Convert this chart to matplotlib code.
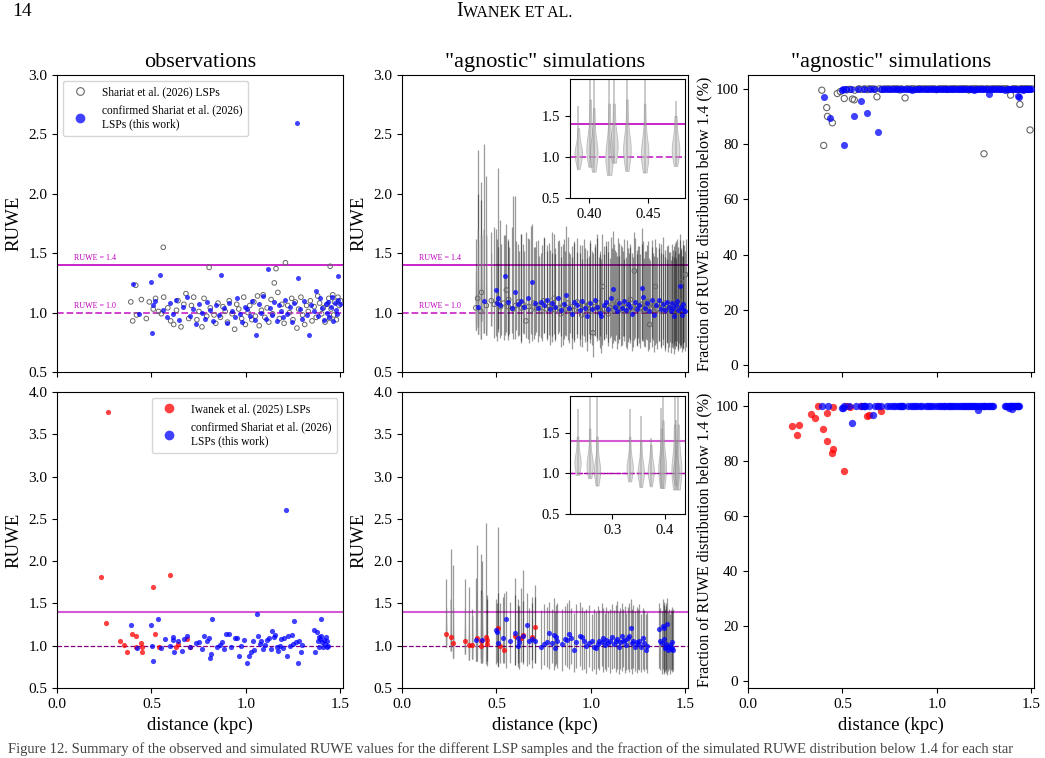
import matplotlib
matplotlib.use('Agg')
import matplotlib.pyplot as plt
from matplotlib.lines import Line2D

plt.rcParams['font.family'] = ['Liberation Serif', 'DejaVu Serif']

# ---------------- top row: Shariat et al. (2026) LSPs ----------------
# not confirmed (grey open circles)
gray_dist = [
    0.391, 0.401, 0.417, 0.421, 0.447, 0.473, 0.489, 0.510, 0.522, 0.538,
    0.553, 0.563, 0.565, 0.587, 0.602, 0.618, 0.633, 0.641, 0.657, 0.672,
    0.683, 0.698, 0.712, 0.724, 0.741, 0.752, 0.768, 0.779, 0.793, 0.806,
    0.812, 0.832, 0.841, 0.853, 0.866, 0.879, 0.891, 0.903, 0.912, 0.928,
    0.941, 0.952, 0.963, 0.978, 0.989, 0.998, 1.012, 1.021, 1.032, 1.043,
    1.051, 1.062, 1.071, 1.083, 1.092, 1.101, 1.113, 1.122, 1.134, 1.142,
    1.151, 1.160, 1.170, 1.178, 1.191, 1.203, 1.210, 1.222, 1.231, 1.243,
    1.250, 1.262, 1.271, 1.280, 1.292, 1.301, 1.312, 1.322, 1.331, 1.342,
    1.351, 1.362, 1.373, 1.381, 1.391, 1.402, 1.411, 1.420, 1.431, 1.440,
    1.444, 1.447, 1.452, 1.461, 1.466, 1.470, 1.480, 1.488, 1.494, 1.502]
gray_obs = [
    1.09, 0.93, 1.23, 0.98, 1.11, 0.95, 1.09, 1.03, 1.12, 1.01,
    0.99, 1.55, 1.13, 1.04, 0.93, 0.90, 1.02, 1.10, 0.88, 1.07,
    1.16, 0.95, 1.06, 1.13, 0.94, 1.01, 0.88, 1.12, 0.97, 1.38,
    1.04, 0.98, 0.91, 1.08, 0.96, 1.05, 1.01, 0.92, 1.10, 0.99,
    0.86, 1.07, 1.03, 0.95, 1.13, 0.90, 1.00, 1.06, 0.94, 1.09,
    0.97, 1.14, 0.89, 1.02, 1.15, 0.96, 1.04, 0.92, 1.11, 0.99,
    1.25, 1.37, 1.17, 0.95, 1.07, 0.91, 1.42, 1.06, 1.00, 1.12,
    0.94, 1.09, 0.87, 1.03, 1.13, 0.98, 0.90, 1.06, 1.01, 1.10,
    0.93, 1.05, 0.96, 1.14, 1.08, 0.99, 1.04, 0.92, 1.07, 1.12,
    0.95, 1.39, 1.03, 1.15, 0.98, 1.09, 0.94, 1.13, 1.06, 1.10]
gray_sim = [
    1.04, 1.12, 1.01, 1.17, 1.06, 1.10, 1.07, 1.09, 1.05, 1.08,
    1.19, 1.05, 1.11, 1.03, 1.06, 1.09, 1.04, 1.07, 0.93, 1.05,
    1.02, 1.08, 1.04, 1.06, 1.01, 1.10, 1.03, 1.05, 1.07, 1.12,
    1.02, 1.04, 0.99, 1.06, 1.03, 1.08, 1.01, 1.05, 1.02, 1.09,
    1.04, 0.98, 1.06, 1.03, 1.07, 1.01, 0.83, 1.05, 1.04, 1.08,
    1.02, 1.22, 1.03, 1.06, 0.99, 1.04, 1.07, 1.02, 1.05, 1.09,
    1.03, 1.06, 1.01, 1.04, 1.08, 1.02, 1.11, 1.05, 1.35, 1.03,
    1.06, 1.04, 1.07, 1.02, 1.05, 1.09, 0.90, 1.04, 1.06, 1.22,
    1.03, 1.07, 1.01, 1.05, 1.08, 1.02, 1.04, 1.06, 1.03, 1.09,
    1.05, 1.02, 1.07, 1.04, 1.10, 1.06, 1.26, 1.03, 1.05, 1.32]
gray_lo = [
    0.85, 0.88, 0.78, 0.93, 0.81, 0.89, 0.79, 0.86, 0.81, 0.77,
    0.84, 0.80, 0.82, 0.78, 0.85, 0.81, 0.76, 0.83, 0.79, 0.74,
    0.82, 0.78, 0.84, 0.80, 0.76, 0.83, 0.79, 0.81, 0.75, 0.82,
    0.78, 0.84, 0.80, 0.73, 0.81, 0.77, 0.83, 0.79, 0.75, 0.82,
    0.78, 0.71, 0.80, 0.76, 0.82, 0.74, 0.63, 0.81, 0.79, 0.77,
    0.80, 0.73, 0.78, 0.82, 0.75, 0.79, 0.70, 0.77, 0.81, 0.74,
    0.78, 0.72, 0.80, 0.76, 0.69, 0.79, 0.74, 0.71, 0.77, 0.73,
    0.79, 0.70, 0.76, 0.72, 0.78, 0.68, 0.75, 0.71, 0.77, 0.73,
    0.69, 0.76, 0.72, 0.78, 0.70, 0.74, 0.67, 0.75, 0.71, 0.73,
    0.69, 0.76, 0.72, 0.68, 0.74, 0.70, 0.73, 0.69, 0.75, 0.71]
gray_hi = [
    1.62, 2.37, 2.10, 1.95, 2.15, 1.68, 1.72, 2.22, 1.58, 1.65,
    1.75, 1.62, 1.55, 1.98, 1.60, 1.52, 1.66, 1.58, 1.68, 1.62,
    1.73, 1.55, 1.60, 1.48, 1.57, 1.63, 1.52, 1.59, 1.50, 1.66,
    1.54, 1.61, 1.47, 1.58, 1.52, 1.64, 1.49, 1.56, 1.60, 1.51,
    1.57, 1.45, 1.62, 1.53, 1.48, 1.59, 1.50, 1.55, 1.63, 1.47,
    1.52, 1.66, 1.49, 1.56, 1.60, 1.46, 1.54, 1.58, 1.51, 1.63,
    1.48, 1.57, 1.52, 1.45, 1.61, 1.50, 1.55, 1.47, 1.68, 1.53,
    1.56, 1.49, 1.58, 1.46, 1.52, 1.60, 1.44, 1.55, 1.50, 1.62,
    1.47, 1.54, 1.58, 1.49, 1.53, 1.45, 1.57, 1.51, 1.48, 1.56,
    1.52, 1.59, 1.46, 1.55, 1.50, 1.61, 1.53, 1.48, 1.57, 1.62]
gray_frac = [
    99.5, 79.5, 93.2, 90.0, 87.7, 98.3, 99.0, 96.5, 99.6, 99.8,
    96.3, 96.0, 99.5, 100, 99.8, 100, 99.7, 100, 100, 99.9,
    97.1, 100, 99.8, 100, 100, 99.9, 100, 100, 100, 99.6,
    100, 96.7, 100, 99.9, 100, 100, 99.8, 100, 100, 100,
    100, 99.9, 100, 100, 100, 99.7, 100, 100, 100, 100,
    100, 99.8, 100, 100, 100, 100, 99.9, 100, 100, 100,
    100, 100, 99.6, 100, 100, 100, 100, 99.9, 100, 100,
    76.5, 100, 100, 99.8, 100, 100, 100, 100, 100, 99.9,
    100, 100, 100, 99.7, 97.7, 100, 100, 100, 99.8, 94.4,
    100, 99.9, 100, 100, 99.8, 100, 100, 100, 85.1, 100]

# confirmed (blue)
blue_dist = [
    0.404, 0.432, 0.497, 0.505, 0.508, 0.521, 0.544, 0.563, 0.581, 0.596,
    0.612, 0.630, 0.648, 0.666, 0.687, 0.703, 0.718, 0.736, 0.751, 0.767,
    0.784, 0.797, 0.812, 0.826, 0.843, 0.858, 0.869, 0.884, 0.898, 0.913,
    0.926, 0.941, 0.955, 0.968, 0.982, 0.996, 1.009, 1.022, 1.034, 1.047,
    1.056, 1.068, 1.080, 1.093, 1.105, 1.117, 1.128, 1.140, 1.152, 1.163,
    1.175, 1.186, 1.198, 1.209, 1.221, 1.232, 1.244, 1.255, 1.270, 1.277,
    1.288, 1.299, 1.311, 1.322, 1.337, 1.348, 1.359, 1.370, 1.381, 1.392,
    1.402, 1.413, 1.424, 1.430, 1.433, 1.441, 1.449, 1.457, 1.463, 1.470,
    1.476, 1.482, 1.487, 1.491, 1.498]
blue_obs = [
    1.24, 0.99, 1.26, 0.83, 1.06, 1.10, 1.32, 1.02, 0.96, 1.08,
    0.99, 1.11, 0.94, 1.05, 1.13, 0.97, 1.03, 0.90, 1.07, 1.00,
    0.95, 1.09, 1.02, 0.93, 1.06, 0.98, 1.32, 1.04, 0.91, 1.08,
    1.01, 0.96, 1.12, 0.99, 0.92, 1.05, 1.03, 0.97, 1.10, 0.94,
    0.81, 1.07, 1.00, 1.14, 0.95, 1.37, 1.04, 0.98, 1.09, 0.93,
    1.06, 1.01, 0.96, 1.11, 0.99, 1.05, 0.92, 1.08, 2.60, 1.29,
    1.03, 0.95, 1.10, 0.98, 0.81, 1.06, 1.01, 1.18, 0.97, 1.12,
    1.04, 0.94, 1.07, 1.00, 1.09, 0.96, 1.05, 1.13, 0.93, 1.08,
    1.02, 0.99, 1.11, 1.31, 1.07]
blue_sim = [
    1.05, 1.10, 1.19, 1.08, 1.12, 1.06, 1.31, 1.09, 1.04, 1.17,
    1.07, 1.10, 1.05, 1.12, 1.26, 1.08, 1.04, 1.09, 1.06, 1.11,
    1.03, 1.08, 1.05, 1.12, 1.02, 1.07, 1.15, 1.04, 0.99, 1.09,
    1.06, 1.02, 1.10, 1.04, 0.97, 1.08, 1.03, 1.11, 1.05, 1.00,
    0.97, 1.06, 1.09, 1.03, 1.12, 1.20, 1.05, 1.01, 1.08, 1.04,
    1.10, 1.02, 1.07, 1.05, 0.99, 1.09, 1.03, 1.06, 1.21, 1.13,
    1.04, 1.08, 1.01, 1.11, 0.98, 1.06, 1.11, 1.03, 1.07, 1.02,
    1.09, 1.05, 1.01, 1.08, 1.04, 0.97, 1.06, 1.10, 1.02, 1.22,
    1.05, 0.98, 1.03, 1.07, 1.01]
blue_lo = [
    0.82, 0.83, 0.80, 0.76, 0.84, 0.79, 0.81, 0.77, 0.83, 0.78,
    0.80, 0.74, 0.82, 0.78, 0.76, 0.81, 0.75, 0.79, 0.83, 0.77,
    0.73, 0.80, 0.76, 0.82, 0.71, 0.78, 0.80, 0.74, 0.69, 0.77,
    0.79, 0.72, 0.81, 0.75, 0.68, 0.78, 0.73, 0.80, 0.76, 0.70,
    0.66, 0.77, 0.79, 0.72, 0.80, 0.74, 0.76, 0.69, 0.78, 0.73,
    0.80, 0.71, 0.75, 0.77, 0.68, 0.79, 0.72, 0.74, 0.78, 0.76,
    0.71, 0.77, 0.69, 0.79, 0.67, 0.74, 0.76, 0.70, 0.73, 0.68,
    0.75, 0.71, 0.66, 0.74, 0.70, 0.65, 0.72, 0.76, 0.69, 0.73,
    0.71, 0.67, 0.70, 0.74, 0.68]
blue_hi = [
    2.00, 2.42, 1.70, 1.62, 1.55, 1.78, 1.65, 1.60, 1.72, 1.98,
    1.58, 1.66, 1.52, 1.63, 1.75, 1.55, 1.61, 1.50, 1.64, 1.57,
    1.53, 1.68, 1.49, 1.60, 1.56, 1.62, 1.73, 1.51, 1.47, 1.59,
    1.63, 1.50, 1.57, 1.54, 1.46, 1.61, 1.52, 1.58, 1.66, 1.49,
    1.45, 1.56, 1.60, 1.51, 1.64, 1.69, 1.53, 1.48, 1.59, 1.55,
    1.62, 1.47, 1.54, 1.58, 1.50, 1.63, 1.49, 1.56, 1.71, 1.60,
    1.52, 1.57, 1.46, 1.61, 1.48, 1.55, 1.59, 1.50, 1.64, 1.47,
    1.56, 1.51, 1.44, 1.58, 1.53, 1.47, 1.60, 1.62, 1.49, 1.66,
    1.54, 1.48, 1.57, 1.61, 1.52]
blue_frac = [
    97.1, 89.3, 99.5, 100, 79.6, 100, 99.8, 90.1, 100, 95.5,
    100, 91.4, 99.9, 100, 84.4, 100, 100, 99.8, 100, 100,
    100, 100, 99.9, 100, 100, 100, 99.7, 100, 100, 100,
    100, 99.8, 100, 100, 100, 100, 100, 99.9, 100, 100,
    100, 100, 100, 99.8, 100, 100, 100, 100, 100, 99.9,
    100, 100, 99.4, 100, 100, 100, 100, 99.8, 100, 98.3,
    100, 100, 99.9, 100, 100, 100, 99.7, 100, 100, 100,
    100, 100, 99.8, 97.3, 97.0, 100, 100, 99.6, 100, 100,
    100, 99.9, 100, 100, 100]

# core of the simulated RUWE samples of the nearest stars (top inset)
top_violin_pos = [0.391, 0.401, 0.404, 0.417, 0.421, 0.432, 0.447, 0.473]
top_violin_vals = [
    [0.85, 0.95, 0.99, 1.02, 1.04, 1.06, 1.09, 1.13, 1.22, 1.35],
    [0.88, 1.00, 1.05, 1.08, 1.10, 1.13, 1.17, 1.25, 1.45, 1.70],
    [0.82, 0.94, 1.00, 1.03, 1.05, 1.08, 1.12, 1.20, 1.40, 1.60],
    [0.78, 0.88, 0.95, 0.99, 1.02, 1.05, 1.10, 1.18, 1.40, 1.65],
    [0.93, 1.02, 1.08, 1.12, 1.15, 1.18, 1.22, 1.30, 1.50, 1.65],
    [0.83, 0.97, 1.03, 1.07, 1.10, 1.13, 1.17, 1.25, 1.45, 1.70],
    [0.81, 0.93, 0.99, 1.02, 1.05, 1.08, 1.12, 1.20, 1.40, 1.65],
    [0.89, 0.99, 1.04, 1.07, 1.10, 1.13, 1.17, 1.24, 1.38, 1.50]]

# ---------------- bottom row ----------------
# Iwanek et al. (2025) LSPs (red)
red_dist = [0.234, 0.257, 0.271, 0.333, 0.354, 0.373, 0.396, 0.418, 0.421, 0.444,
            0.449, 0.452, 0.509, 0.518, 0.540, 0.601, 0.630, 0.643, 0.690, 0.703]
red_obs = [1.815, 1.27, 3.76, 1.06, 1.01, 0.93, 1.14, 1.118, 0.98, 1.03,
           0.99, 0.93, 1.70, 1.134, 0.99, 1.84, 0.99, 1.02, 1.075, 0.99]
red_sim = [1.14, 1.106, 1.03, 1.06, 1.01, 1.01, 1.09, 1.05, 1.00, 1.10,
           1.07, 1.02, 1.21, 1.00, 0.95, 1.11, 1.09, 1.13, 1.10, 1.22]
red_lo = [0.98, 0.94, 0.85, 0.90, 0.83, 0.84, 0.82, 0.80, 0.86, 0.78,
          0.76, 0.82, 0.75, 0.80, 0.79, 0.77, 0.81, 0.78, 0.83, 0.80]
red_hi = [1.79, 2.14, 1.96, 1.79, 1.70, 1.43, 2.19, 2.08, 1.66, 2.45,
          1.60, 1.55, 2.40, 1.50, 1.62, 1.80, 1.68, 1.90, 1.58, 1.72]
red_frac = [92.6, 89.3, 92.9, 97.1, 95.7, 99.8, 91.6, 87.2, 97.4, 82.8,
            84.3, 99.6, 76.4, 99.9, 99.5, 99.8, 96.3, 96.8, 99.9, 98.2]

# confirmed Shariat et al. (2026) LSPs (blue)
blue2_dist = [
    0.393, 0.425, 0.497, 0.503, 0.506, 0.536, 0.552, 0.571, 0.596, 0.612,
    0.617, 0.622, 0.641, 0.664, 0.672, 0.689, 0.702, 0.738, 0.751, 0.766,
    0.779, 0.792, 0.805, 0.812, 0.818, 0.823, 0.846, 0.861, 0.874, 0.884,
    0.893, 0.912, 0.924, 0.941, 0.952, 0.963, 0.975, 0.988, 1.005, 1.016,
    1.027, 1.036, 1.044, 1.058, 1.066, 1.075, 1.083, 1.092, 1.104, 1.113,
    1.121, 1.132, 1.139, 1.147, 1.156, 1.164, 1.172, 1.181, 1.189, 1.196,
    1.204, 1.212, 1.218, 1.226, 1.234, 1.243, 1.251, 1.257, 1.266, 1.277,
    1.284, 1.292, 1.298, 1.362, 1.368, 1.375, 1.381, 1.386, 1.389, 1.393,
    1.397, 1.401, 1.405, 1.409, 1.414, 1.419, 1.424, 1.428, 1.431, 1.434]
blue2_obs = [
    1.24, 0.97, 1.25, 1.00, 0.825, 1.32, 0.97, 1.08, 1.00, 1.10,
    1.07, 0.93, 1.05, 0.94, 1.08, 1.11, 0.99, 1.03, 1.04, 0.96,
    1.11, 1.06, 1.09, 0.86, 0.90, 1.31, 0.98, 1.01, 1.04, 0.96,
    1.14, 1.14, 0.99, 1.09, 1.09, 0.88, 1.00, 1.07, 0.79, 0.88,
    0.92, 1.06, 0.95, 1.37, 1.12, 1.02, 1.05, 0.96, 1.01, 1.07,
    1.09, 0.96, 1.17, 1.10, 1.13, 0.98, 0.94, 1.00, 1.08, 0.97,
    1.09, 2.60, 0.88, 1.11, 1.00, 1.13, 1.02, 1.29, 1.04, 0.80,
    1.06, 0.92, 1.01, 1.18, 0.93, 1.16, 1.05, 0.99, 1.10, 1.08,
    1.31, 1.12, 1.04, 0.99, 1.07, 1.02, 1.10, 0.98, 1.06, 1.00]
blue2_sim = [
    1.07, 1.07, 1.18, 1.16, 1.03, 1.09, 1.31, 1.05, 1.15, 1.09,
    1.00, 1.04, 1.12, 1.25, 1.05, 1.08, 1.06, 0.99, 1.02, 1.04,
    1.15, 1.03, 1.13, 0.97, 1.10, 1.06, 1.02, 1.08, 1.07, 1.14,
    1.09, 0.95, 1.04, 1.12, 1.10, 1.06, 1.00, 1.03, 1.05, 0.99,
    0.97, 1.02, 1.06, 1.04, 1.09, 1.01, 1.07, 1.03, 1.05, 1.10,
    1.02, 1.06, 1.08, 0.98, 1.04, 1.11, 1.05, 1.07, 1.01, 1.09,
    1.12, 1.21, 1.03, 1.06, 0.99, 1.04, 1.02, 1.05, 0.98, 1.09,
    1.03, 0.95, 1.00, 1.20, 1.06, 1.03, 1.23, 1.08, 1.21, 0.97,
    1.02, 0.99, 1.26, 0.95, 0.98, 1.01, 0.96, 1.04, 0.97, 0.95]
blue2_lo = [
    0.82, 0.80, 0.78, 0.81, 0.76, 0.79, 0.74, 0.80, 0.77, 0.75,
    0.79, 0.73, 0.81, 0.76, 0.78, 0.74, 0.80, 0.72, 0.77, 0.75,
    0.73, 0.79, 0.71, 0.76, 0.78, 0.74, 0.70, 0.77, 0.75, 0.72,
    0.78, 0.69, 0.74, 0.76, 0.71, 0.73, 0.68, 0.75, 0.70, 0.72,
    0.67, 0.74, 0.71, 0.76, 0.69, 0.73, 0.70, 0.75, 0.68, 0.72,
    0.74, 0.69, 0.72, 0.66, 0.73, 0.70, 0.75, 0.68, 0.71, 0.73,
    0.69, 0.72, 0.67, 0.74, 0.70, 0.68, 0.73, 0.71, 0.69, 0.72,
    0.70, 0.73, 0.68, 0.74, 0.71, 0.66, 0.72, 0.69, 0.67, 0.70,
    0.68, 0.72, 0.65, 0.70, 0.73, 0.67, 0.71, 0.69, 0.72, 0.70]
blue2_hi = [
    1.80, 2.00, 1.55, 1.50, 1.62, 1.58, 1.65, 1.52, 1.60, 1.48,
    1.55, 1.47, 1.53, 1.62, 1.45, 1.50, 1.58, 1.42, 1.49, 1.46,
    1.52, 1.44, 1.56, 1.40, 1.48, 1.51, 1.43, 1.47, 1.50, 1.54,
    1.45, 1.39, 1.49, 1.52, 1.46, 1.41, 1.44, 1.48, 1.38, 1.43,
    1.40, 1.47, 1.42, 1.50, 1.45, 1.39, 1.46, 1.41, 1.44, 1.49,
    1.42, 1.48, 1.53, 1.40, 1.45, 1.51, 1.43, 1.47, 1.39, 1.46,
    1.50, 1.55, 1.44, 1.48, 1.41, 1.46, 1.43, 1.49, 1.38, 1.45,
    1.42, 1.37, 1.40, 1.50, 1.45, 1.41, 1.55, 1.48, 1.52, 1.43,
    1.47, 1.50, 1.56, 1.40, 1.44, 1.38, 1.42, 1.46, 1.41, 1.43]
blue2_frac = [
    100, 100, 99.1, 99.1, 100, 100, 93.9, 100, 100, 100,
    100, 100, 100, 96.5, 100, 100, 100, 100, 100, 100,
    100, 100, 100, 100, 100, 100, 100, 100, 100, 100,
    100, 100, 100, 100, 100, 100, 100, 100, 100, 100,
    100, 100, 100, 100, 100, 100, 100, 100, 100, 100,
    100, 100, 100, 100, 100, 100, 100, 100, 100, 100,
    100, 100, 98.5, 100, 100, 100, 100, 100, 100, 100,
    100, 100, 100, 100, 100, 100, 99.2, 100, 100, 100,
    100, 98.8, 100, 100, 100, 100, 100, 100, 100, 100]

bot_violin_pos = [0.234, 0.257, 0.271, 0.333, 0.354, 0.373, 0.393, 0.396, 0.418, 0.421, 0.425]
bot_violin_vals = [
    [0.98, 1.05, 1.09, 1.12, 1.14, 1.16, 1.19, 1.24, 1.35, 1.45],
    [0.94, 1.02, 1.06, 1.09, 1.11, 1.13, 1.16, 1.22, 1.40, 1.55],
    [0.85, 0.94, 0.99, 1.02, 1.04, 1.06, 1.09, 1.15, 1.30, 1.45],
    [0.90, 0.98, 1.02, 1.05, 1.07, 1.09, 1.12, 1.17, 1.30, 1.45],
    [0.83, 0.92, 0.97, 1.00, 1.02, 1.04, 1.07, 1.12, 1.25, 1.40],
    [0.84, 0.93, 0.98, 1.01, 1.03, 1.05, 1.08, 1.12, 1.22, 1.35],
    [0.82, 0.93, 0.99, 1.03, 1.06, 1.09, 1.13, 1.20, 1.36, 1.55],
    [0.82, 0.94, 1.01, 1.05, 1.08, 1.11, 1.15, 1.22, 1.45, 1.65],
    [0.80, 0.92, 0.98, 1.02, 1.05, 1.08, 1.12, 1.20, 1.40, 1.60],
    [0.86, 0.93, 0.97, 1.00, 1.02, 1.04, 1.07, 1.12, 1.25, 1.40],
    [0.80, 0.90, 0.97, 1.01, 1.05, 1.09, 1.14, 1.22, 1.38, 1.60]]

# ---------------- figure ----------------
W, H = 1045, 758
fig = plt.figure(figsize=(W / 100, H / 100), dpi=100)


def box(x0, y0, x1, y1):
    return [x0 / W, 1 - y1 / H, (x1 - x0) / W, (y1 - y0) / H]


ax_tl = fig.add_axes(box(57, 75, 343, 372))
ax_tm = fig.add_axes(box(402, 75, 688, 372))
ax_tr = fig.add_axes(box(748, 75, 1034, 372))
ax_bl = fig.add_axes(box(57, 392, 343, 688))
ax_bm = fig.add_axes(box(402, 392, 688, 688))
ax_br = fig.add_axes(box(748, 392, 1034, 688))
ins_t = fig.add_axes(box(570, 79, 685, 198))
ins_b = fig.add_axes(box(570, 396, 685, 514))


def ruwe_lines(ax, top, labels=False):
    if top:
        ax.axhline(1.4, color='m', lw=1.2, zorder=1)
        ax.axhline(1.0, color='m', lw=1.3, ls='--', alpha=0.8, zorder=1)
    else:
        ax.axhline(1.4, color='m', lw=1.5, alpha=0.65, zorder=1)
        ax.axhline(1.0, color='purple', lw=0.9, ls='--', zorder=1)
    if labels:
        ax.text(0.09, 1.425, 'RUWE = 1.4', color='m', fontsize=5.8, va='bottom')
        ax.text(0.09, 1.025, 'RUWE = 1.0', color='m', fontsize=5.8, va='bottom')


def sim_lines(ax, d, lo, hi, inset=False):
    if inset:
        ax.vlines(d, lo, hi, color='gray', lw=1.3, alpha=0.45, zorder=2)
    else:
        ax.vlines(d, lo, hi, color='k', lw=0.9, alpha=0.4, zorder=2)


def violins(ax, pos, vals, width):
    parts = ax.violinplot(vals, positions=pos, widths=width, showextrema=False,
                          bw_method=0.6)
    for b in parts['bodies']:
        b.set_facecolor('#b0b0b0')
        b.set_edgecolor('gray')
        b.set_alpha(0.45)
        b.set_linewidth(0.6)
        b.set_zorder(3)


for ax in (ax_tl, ax_tm, ax_tr, ax_bl, ax_bm, ax_br):
    ax.set_xlim(0, 1.515)
    ax.set_xticks([0.0, 0.5, 1.0, 1.5])
    ax.tick_params(labelsize=11)
for ax in (ax_tl, ax_tm, ax_tr):
    ax.tick_params(labelbottom=False)

# top-left: observations
ruwe_lines(ax_tl, True, labels=True)
ax_tl.scatter(gray_dist, gray_obs, s=11, facecolors='none', edgecolors='#666666', lw=0.7, zorder=4)
ax_tl.scatter(blue_dist, blue_obs, s=13, color='blue', alpha=0.75, lw=0, zorder=5)
ax_tl.set_ylim(0.5, 3.0)
ax_tl.set_ylabel('RUWE', fontsize=13.5)
ax_tl.set_title('observations', fontsize=16)
h1 = [Line2D([], [], ls='', marker='o', ms=5.5, mfc='none', mec='#666666', mew=0.8),
      Line2D([], [], ls='', marker='o', ms=7, color='blue', alpha=0.75, mew=0)]
ax_tl.legend(h1, ['Shariat et al. (2026) LSPs', 'confirmed Shariat et al. (2026)\nLSPs (this work)'],
             loc='upper left', fontsize=8.3, borderpad=0.5, handletextpad=0.9)

# top-middle: simulations
ruwe_lines(ax_tm, True, labels=True)
sim_lines(ax_tm, gray_dist, gray_lo, gray_hi)
sim_lines(ax_tm, blue_dist, blue_lo, blue_hi)
violins(ax_tm, top_violin_pos, top_violin_vals, 0.006)
ax_tm.scatter(gray_dist, gray_sim, s=11, facecolors='none', edgecolors='#666666', lw=0.7, zorder=4)
ax_tm.scatter(blue_dist, blue_sim, s=13, color='blue', alpha=0.75, lw=0, zorder=5)
ax_tm.set_ylim(0.5, 3.0)
ax_tm.set_ylabel('RUWE', fontsize=13.5)
ax_tm.set_title('"agnostic" simulations', fontsize=16)

ruwe_lines(ins_t, True)
sim_lines(ins_t, gray_dist, gray_lo, gray_hi, inset=True)
sim_lines(ins_t, blue_dist, blue_lo, blue_hi, inset=True)
violins(ins_t, top_violin_pos, top_violin_vals, 0.0065)
ins_t.set_xlim(0.384, 0.481)
ins_t.set_ylim(0.5, 1.95)
ins_t.set_xticks([0.40, 0.45])
ins_t.set_xticklabels(['0.40', '0.45'])
ins_t.set_yticks([0.5, 1.0, 1.5])
ins_t.tick_params(labelsize=10.5)

# top-right: fraction below 1.4
ax_tr.scatter(gray_dist, gray_frac, s=20, facecolors='none', edgecolors='#666666', lw=0.8, zorder=4)
ax_tr.scatter(blue_dist, blue_frac, s=26, color='blue', alpha=0.75, lw=0, zorder=5)
ax_tr.set_ylim(-2.5, 105)
ax_tr.set_yticks([0, 20, 40, 60, 80, 100])
ax_tr.set_ylabel('Fraction of RUWE distribution below 1.4 (%)', fontsize=11.5, labelpad=2)
ax_tr.set_title('"agnostic" simulations', fontsize=16)

# bottom-left: observations
ruwe_lines(ax_bl, False)
ax_bl.scatter(red_dist, red_obs, s=14, color='red', alpha=0.75, lw=0, zorder=5)
ax_bl.scatter(blue2_dist, blue2_obs, s=14, color='blue', alpha=0.75, lw=0, zorder=5)
ax_bl.set_ylim(0.5, 4.0)
ax_bl.set_ylabel('RUWE', fontsize=13.5)
ax_bl.set_xlabel('distance (kpc)', fontsize=13.5)
h2 = [Line2D([], [], ls='', marker='o', ms=7, color='red', alpha=0.75, mew=0),
      Line2D([], [], ls='', marker='o', ms=7, color='blue', alpha=0.75, mew=0)]
ax_bl.legend(h2, ['Iwanek et al. (2025) LSPs', 'confirmed Shariat et al. (2026)\nLSPs (this work)'],
             loc='upper right', fontsize=8.3, borderpad=0.5, handletextpad=0.9)

# bottom-middle: simulations
ruwe_lines(ax_bm, False)
sim_lines(ax_bm, red_dist, red_lo, red_hi)
sim_lines(ax_bm, blue2_dist, blue2_lo, blue2_hi)
violins(ax_bm, bot_violin_pos, bot_violin_vals, 0.006)
ax_bm.scatter(red_dist, red_sim, s=14, color='red', alpha=0.75, lw=0, zorder=5)
ax_bm.scatter(blue2_dist, blue2_sim, s=14, color='blue', alpha=0.75, lw=0, zorder=5)
ax_bm.set_ylim(0.5, 4.0)
ax_bm.set_ylabel('RUWE', fontsize=13.5)
ax_bm.set_xlabel('distance (kpc)', fontsize=13.5)

ruwe_lines(ins_b, False)
ins_b.axhline(1.0, color='m', lw=1.0, ls='--', zorder=1)
sim_lines(ins_b, red_dist, red_lo, red_hi, inset=True)
sim_lines(ins_b, blue2_dist, blue2_lo, blue2_hi, inset=True)
violins(ins_b, bot_violin_pos, bot_violin_vals, 0.012)
ins_b.set_xlim(0.2197, 0.4379)
ins_b.set_ylim(0.5, 1.95)
ins_b.set_xticks([0.3, 0.4])
ins_b.set_yticks([0.5, 1.0, 1.5])
ins_b.tick_params(labelsize=10.5)

# bottom-right: fraction below 1.4
ax_br.scatter(red_dist, red_frac, s=28, color='red', alpha=0.75, lw=0, zorder=5)
ax_br.scatter(blue2_dist, blue2_frac, s=28, color='blue', alpha=0.75, lw=0, zorder=5)
ax_br.set_ylim(-2.5, 105)
ax_br.set_yticks([0, 20, 40, 60, 80, 100])
ax_br.set_ylabel('Fraction of RUWE distribution below 1.4 (%)', fontsize=11.5, labelpad=2)
ax_br.set_xlabel('distance (kpc)', fontsize=13.5)

# page header and the caption line at the foot
fig.text(12 / W, 1 - 12 / H, '14', fontsize=14, va='center')
fig.text(463 / W, 1 - 12 / H, 'I', fontsize=14.5, va='center', ha='right')
fig.text(463 / W, 1 - 13 / H, 'WANEK ET AL.', fontsize=11.5, va='center', ha='left')
fig.text(8 / W, 1 - 753 / H, 'Figure 12. Summary of the observed and simulated RUWE values for the different '
         'LSP samples and the fraction of the simulated RUWE distribution below 1.4 for each star',
         fontsize=10.5, color='#444444', va='baseline', ha='left')

fig.savefig('out.png', dpi=100)
